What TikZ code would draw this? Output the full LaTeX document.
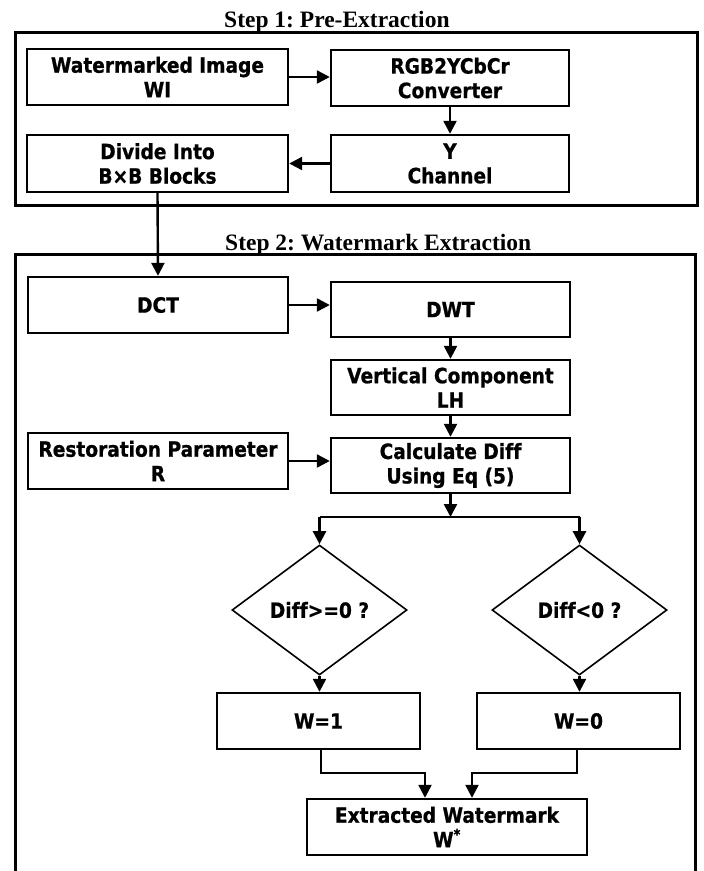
\documentclass[tikz,border=0pt]{standalone}
\usepackage{fontspec}
\setmainfont{Liberation Serif}
\newfontfamily\boxfont[FakeStretch=0.885, FakeBold=0.8, Ligatures=NoCommon]{DejaVu Sans Bold}
\usetikzlibrary{shapes.geometric,arrows.meta}
\frenchspacing
\tikzset{
  blk/.style={draw, line width=2.4pt, inner sep=0pt, align=center,
    font=\boxfont\fontsize{21}{24.5}\selectfont},
  dec/.style={draw, diamond, line width=1.6pt, inner sep=0pt, aspect=1.346,
    minimum width=175pt, minimum height=130pt,
    font=\boxfont\fontsize{21}{24.5}\selectfont},
  frame/.style={draw, line width=3pt},
  ttl/.style={anchor=base west, inner sep=0pt, font=\bfseries\fontsize{23.5}{26}\selectfont},
  arr/.style={line width=2.4pt, -{Triangle[length=13pt,width=13pt]}},
  ln/.style={line width=2.4pt}
}
\begin{document}
\begin{tikzpicture}[x=1pt,y=-1pt]
\useasboundingbox (0,0) rectangle (704,871);
% frames
\node[ttl] (t1) at (224,27) {Step 1: Pre-Extraction};
\draw[frame] (15,32) rectangle (697,205);
\node[ttl] (t2) at (225,250) {Step 2: Watermark Extraction};
\draw[frame] (15,875) -- (15,254) -- (695,254) -- (695,875);
% step 1 boxes
\node[blk, minimum width=261pt, minimum height=56pt] (wi) at (157.5,77) {Watermarked Image\\WI};
\node[blk, minimum width=238pt, minimum height=56pt] (rgb) at (450,78) {RGB2YCbCr\\Converter};
\node[blk, minimum width=238pt, minimum height=57pt] (ych) at (450,163.5) {Y\\Channel};
\node[blk, minimum width=261pt, minimum height=57pt] (div) at (157.5,163.5) {Divide Into\\B×B Blocks};
% step 2 boxes
\node[blk, minimum width=260pt, minimum height=56pt] (dct) at (158,305) {DCT};
\node[blk, minimum width=239pt, minimum height=55pt] (dwt) at (450.5,309.5) {DWT};
\node[blk, minimum width=239pt, minimum height=55pt] (vc) at (450.5,387.5) {Vertical Component\\LH};
\node[blk, minimum width=260pt, minimum height=56pt] (rp) at (158,461) {Restoration Parameter\\R};
\node[blk, minimum width=239pt, minimum height=55pt] (calc) at (450.5,465.5) {Calculate Diff\\Using Eq (5)};
\node[dec] (d1) at (319.5,610) {Diff>=0 ?};
\node[dec] (d2) at (579.5,610) {Diff<0 ?};
\node[blk, minimum width=203pt, minimum height=56pt] (w1) at (318.5,721) {W=1};
\node[blk, minimum width=203pt, minimum height=56pt] (w0) at (578.5,721) {W=0};
\node[blk, minimum width=280pt, minimum height=56pt] (ex) at (447,827) {Extracted Watermark\\W\textsuperscript{*}};
% coordinates
\coordinate (bl) at (319.5,517);
\coordinate (br) at (579.5,517);
\coordinate (bm) at (450.5,517);
\coordinate (ml) at (425,773);
\coordinate (mr) at (472,773);
% connectors
\draw[arr] (wi.east) -- (rgb.west |- wi.east);
\draw[arr] (rgb.south) -- (ych.north);
\draw[arr] (ych.west) -- (div.east |- ych.west);
\draw[arr] (div.south) -- (dct.north);
\draw[arr] (dct.east) -- (dwt.west |- dct.east);
\draw[arr] (dwt.south) -- (vc.north);
\draw[arr] (vc.south) -- (calc.north);
\draw[arr] (rp.east) -- (calc.west |- rp.east);
\draw[arr] (calc.south) -- (bm);
\draw[ln] (bl) -- (br);
\draw[arr] (bl) -- (d1.north);
\draw[arr] (br) -- (d2.north);
\draw[arr] (d1.south) -- (w1.north -| d1.south);
\draw[arr] (d2.south) -- (w0.north -| d2.south);
\draw[arr] (w1.south -| 321,0) |- (ml) -- (ex.north -| ml);
\draw[arr] (w0.south -| 577,0) |- (mr) -- (ex.north -| mr);
\end{tikzpicture}
\end{document}
